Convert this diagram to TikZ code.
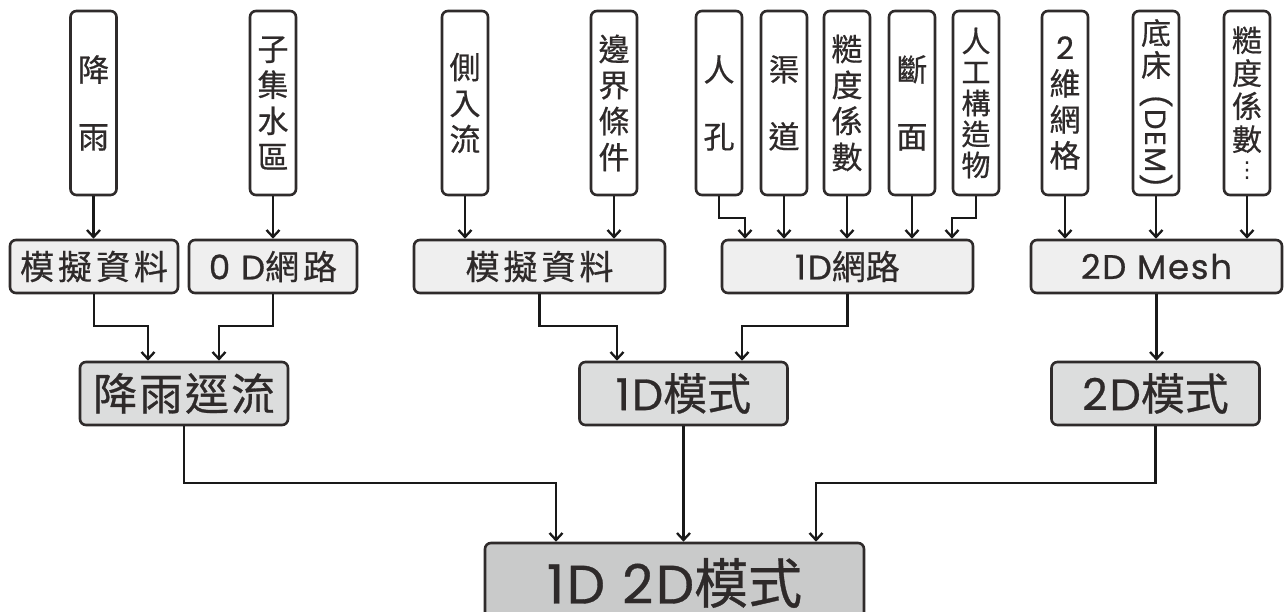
\documentclass[tikz,border=0pt]{standalone}
\usepackage{fontspec}
\setmainfont{Noto Sans CJK TC}[FakeBold=0.6]
\newfontfamily\lat{Poppins}[LetterSpace=5,FakeBold=0.6]
\newfontfamily\dejavu{DejaVu Sans}
\usetikzlibrary{arrows.meta,calc}
\definecolor{bordc}{HTML}{2F2B2B}
\definecolor{txtc}{HTML}{2E2A2A}
\definecolor{fillA}{HTML}{EFEFEF}
\definecolor{fillB}{HTML}{DCDDDD}
\definecolor{fillC}{HTML}{C9CACA}
\newcommand\cg{\hspace{4pt}}
\tikzset{
  box/.style={draw=bordc, line width=2.6pt, rounded corners=6pt, text=txtc, inner sep=0pt, align=center},
  topbox/.style={box, fill=white, minimum width=46pt, minimum height=184pt, font=\fontsize{31}{36}\selectfont},
  midbox/.style={box, fill=fillA, minimum height=53pt, font=\fontsize{34}{38}\selectfont},
  lowbox/.style={box, fill=fillB, minimum width=208pt, minimum height=63pt, font=\fontsize{44}{48}\selectfont},
  finbox/.style={box, fill=fillC, minimum width=379pt, minimum height=84pt, font=\fontsize{54}{58}\selectfont},
  arr/.style={draw=black!90, line width=2.3pt, -{Straight Barb[length=7pt,width=13pt,line width=2.3pt]}}
}
\begin{document}
\begin{tikzpicture}[x=1pt,y=-1pt]
\useasboundingbox (0,0) rectangle (1287,612);
\clip (0,0) rectangle (1287,612);
\fill[white] (0,0) rectangle (1287,612);
% top boxes
\node[topbox] (rain) at (93.5,103) {降\\[31pt]雨};
\node[topbox] (sub)  at (273,103) {子\\集\\水\\區};
\node[topbox] (lat)  at (465,103) {側\\入\\流};
\node[topbox] (bnd)  at (614,103) {邊\\界\\條\\件};
\node[topbox] (mh)   at (719,103) {人\\[31pt]孔};
\node[topbox] (ch)   at (784,103) {渠\\[31pt]道};
\node[topbox] (rgh)  at (847,103) {糙\\度\\係\\數};
\node[topbox] (xs)   at (912,103) {斷\\[31pt]面};
\node[topbox, font=\fontsize{29}{31}\selectfont] (st) at (976,103) {人\\工\\構\\造\\物};
\node[topbox] (g2) at (1065,103) {{\lat 2}\\維\\網\\格};
\node[topbox, font=\fontsize{30}{32}\selectfont] (dem) at (1156,103) {底\\床\\[-14pt]\rotatebox{-90}{\fontsize{29}{32}\selectfont\lat (DEM)}};
\node[topbox, font=\fontsize{30}{33}\selectfont] (rgh2) at (1247,103) {糙\\度\\係\\數\\[-6pt]{\dejavu\fontsize{22}{24}\selectfont ⋮}};
% middle row
\node[midbox, minimum width=168pt] (sim1) at (94,266.5) {模\cg 擬\cg 資\cg 料};
\node[midbox, minimum width=168pt] (od)   at (273,266.5) {{\lat 0 D}網\cg 路};
\node[midbox, minimum width=251pt] (sim2) at (539.5,266.5) {模\cg 擬\cg 資\cg 料};
\node[midbox, minimum width=251pt] (n1d)  at (847.5,266.5) {{\lat 1D}網路};
\node[midbox, minimum width=251pt] (mesh) at (1156.5,266.5) {{\lat 2D Mesh}};
% third row
\node[lowbox] (runoff) at (184,393.5) {降\hspace{2pt}雨\hspace{2pt}逕\hspace{2pt}流};
\node[lowbox] (m1d) at (683.5,393.5) {{\lat 1D}模式};
\node[lowbox] (m2d) at (1155.5,393.5) {{\lat 2D}模式};
% final
\node[finbox] (fin) at (674.5,585) {};
\node[font=\fontsize{54}{58}\selectfont, text=txtc, inner sep=0pt] (fintxt) at (674.5,583) {{\lat 1D 2D}模式};
% connectors top -> middle
\draw[arr] (rain.south) -- (rain.south |- sim1.north);
\draw[arr] (sub.south) -- (sub.south |- od.north);
\draw[arr] (lat.south) -- (lat.south |- sim2.north);
\draw[arr] (bnd.south) -- (bnd.south |- sim2.north);
\draw[arr] (mh.south) -- ++(0,22) -| ([xshift=26pt]mh.south |- n1d.north);
\draw[arr] (ch.south) -- (ch.south |- n1d.north);
\draw[arr] (rgh.south) -- (rgh.south |- n1d.north);
\draw[arr] (xs.south) -- (xs.south |- n1d.north);
\draw[arr] (st.south) -- ++(0,22) -| ([xshift=-24pt]st.south |- n1d.north);
\draw[arr] (g2.south) -- (g2.south |- mesh.north);
\draw[arr] (dem.south) -- (dem.south |- mesh.north);
\draw[arr] (rgh2.south) -- (rgh2.south |- mesh.north);
% middle -> third
\draw[arr] (sim1.south) -- ++(0,32) -| ([xshift=-36pt]runoff.north);
\draw[arr] (od.south) -- ++(0,32) -| ([xshift=35pt]runoff.north);
\draw[arr] (sim2.south) -- ++(0,32) -| ([xshift=-66.5pt]m1d.north);
\draw[arr] (n1d.south) -- ++(0,32) -| ([xshift=58.5pt]m1d.north);
\draw[arr] (mesh.south) -- (mesh.south |- m2d.north);
% third -> final
\draw[arr] (runoff.south) -- ++(0,57) -| ([xshift=-118.5pt]fin.north);
\draw[arr] (m1d.south) -- (m1d.south |- fin.north);
\draw[arr] (m2d.south) -- ++(0,57) -| ([xshift=141.5pt]fin.north);
\end{tikzpicture}
\end{document}
